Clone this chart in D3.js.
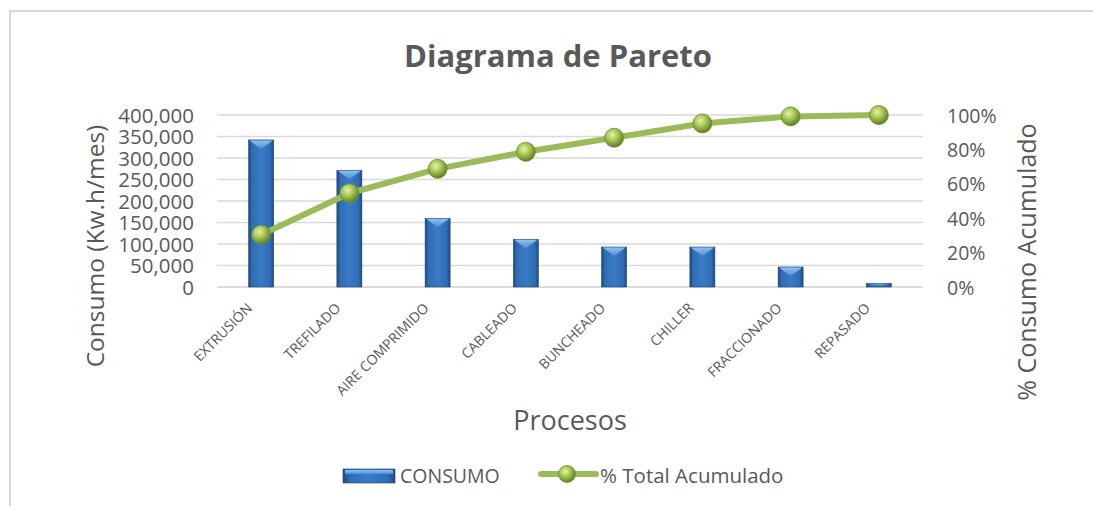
<!DOCTYPE html>
<html>
<head>
<meta charset="utf-8">
<script src="https://cdn.jsdelivr.net/npm/d3@7"></script>
<style>
  body { margin: 0; background: #fff; overflow: hidden; }
  svg { display: block; font-family: "Open Sans", sans-serif; }
</style>
</head>
<body>
<svg></svg>
<script>
(function (d3) {
  'use strict';

  // data
  var procesos = ["EXTRUSIÓN", "TREFILADO", "AIRE COMPRIMIDO", "CABLEADO",
                  "BUNCHEADO", "CHILLER", "FRACCIONADO", "REPASADO"];
  var consumo = [342000, 271400, 159700, 110900, 93000, 93000, 46500, 8600];
  var acumulado = [30.4, 54.5, 68.7, 78.6, 86.8, 95.1, 99.2, 100];
  var yTicks = [0, 50000, 100000, 150000, 200000, 250000, 300000, 350000, 400000];
  var pTicks = [0, 20, 40, 60, 80, 100];

  var width = 1093, height = 506,
      left = 217, right = 923, top = 115, bottom = 287,
      txt = "#595959";

  var svg = d3.select("svg").attr("width", width).attr("height", height);
  var defs = svg.append("defs");

  // bar bevel gradient
  var bg = defs.append("linearGradient").attr("id", "barGrad")
    .attr("x1", 0).attr("x2", 1).attr("y1", 0).attr("y2", 0);
  bg.append("stop").attr("offset", "0%").attr("stop-color", "#1d4a80");
  bg.append("stop").attr("offset", "14%").attr("stop-color", "#2f6db5");
  bg.append("stop").attr("offset", "50%").attr("stop-color", "#3a7bc6");
  bg.append("stop").attr("offset", "86%").attr("stop-color", "#2f6db5");
  bg.append("stop").attr("offset", "100%").attr("stop-color", "#1d4a80");

  var tg = defs.append("linearGradient").attr("id", "topGrad")
    .attr("x1", 0).attr("x2", 0).attr("y1", 0).attr("y2", 1);
  tg.append("stop").attr("offset", "0%").attr("stop-color", "#8fc0ee");
  tg.append("stop").attr("offset", "100%").attr("stop-color", "#4d8fd6");

  var mg = defs.append("radialGradient").attr("id", "dotGrad")
    .attr("cx", "40%").attr("cy", "35%").attr("r", "65%");
  mg.append("stop").attr("offset", "0%").attr("stop-color", "#e4f3a8");
  mg.append("stop").attr("offset", "45%").attr("stop-color", "#a9c957");
  mg.append("stop").attr("offset", "100%").attr("stop-color", "#5f7d22");

  // outer chart border (only top and left are in view)
  svg.append("path")
    .attr("d", "M10,506 L10,11 L1093,11")
    .attr("fill", "none").attr("stroke", "#d9d9d9").attr("stroke-width", 2);

  var x = d3.scaleBand().domain(procesos).range([left, right]);
  var y = d3.scaleLinear().domain([0, 400000]).range([bottom, top]);
  var yp = d3.scaleLinear().domain([0, 100]).range([bottom, top]);
  var barW = 25;

  // gridlines
  svg.append("g").selectAll("line").data(yTicks).enter().append("line")
    .attr("x1", left).attr("x2", right)
    .attr("y1", function (d) { return y(d); }).attr("y2", function (d) { return y(d); })
    .attr("stroke", function (d) { return d === 0 ? "#d0d0d0" : "#d9d9d9"; })
    .attr("stroke-width", 1.5);

  // left axis
  var yAxis = svg.append("g").attr("transform", "translate(" + (left - 23) + ",0)")
    .call(d3.axisLeft(y).tickValues(yTicks).tickSize(0).tickPadding(0)
      .tickFormat(d3.format(",")));
  yAxis.select(".domain").remove();
  yAxis.selectAll("text").attr("fill", txt).attr("font-size", 20.5)
    .attr("font-family", "'Open Sans', sans-serif").attr("dy", "0.36em");

  // right axis
  var pAxis = svg.append("g").attr("transform", "translate(" + (right + 24) + ",0)")
    .call(d3.axisRight(yp).tickValues(pTicks).tickSize(0).tickPadding(0)
      .tickFormat(function (d) { return d + "%"; }));
  pAxis.select(".domain").remove();
  pAxis.selectAll("text").attr("fill", txt).attr("font-size", 19.5)
    .attr("font-family", "'Open Sans', sans-serif").attr("dy", "0.36em");

  // x labels, rotated
  var xAxis = svg.append("g").attr("transform", "translate(0," + bottom + ")")
    .call(d3.axisBottom(x).tickSize(0).tickPadding(0));
  xAxis.select(".domain").remove();
  xAxis.selectAll("text")
    .attr("fill", txt).attr("font-size", 14)
    .attr("font-family", "'Open Sans', sans-serif")
    .attr("text-anchor", "end")
    .attr("dy", 0).attr("y", 0)
    .attr("transform", "translate(-8,22) rotate(-45)");

  // bars
  var bars = svg.append("g").selectAll("g").data(procesos).enter().append("g")
    .attr("transform", function (d) { return "translate(" + (x(d) + x.bandwidth() / 2 - barW / 2) + ",0)"; });
  bars.append("rect")
    .attr("y", function (d, i) { return y(consumo[i]); })
    .attr("width", barW)
    .attr("height", function (d, i) { return bottom - y(consumo[i]); })
    .attr("fill", "url(#barGrad)")
    .attr("stroke", "#1c4474").attr("stroke-width", 0.6);
  bars.append("path")
    .attr("d", function (d, i) {
      var t = y(consumo[i]), h = Math.min(9, (bottom - t) / 2);
      return "M1," + (t + 0.5) + " L" + (barW - 1) + "," + (t + 0.5) +
        " L" + (barW / 2) + "," + (t + h) + " Z";
    })
    .attr("fill", "url(#topGrad)");

  // cumulative line
  var line = d3.line()
    .x(function (d, i) { return x(procesos[i]) + x.bandwidth() / 2; })
    .y(function (d) { return yp(d); });
  svg.append("path").datum(acumulado)
    .attr("d", line).attr("fill", "none")
    .attr("stroke", "#9bbb59").attr("stroke-width", 6)
    .attr("stroke-linejoin", "round");
  svg.append("g").selectAll("circle").data(acumulado).enter().append("circle")
    .attr("cx", function (d, i) { return x(procesos[i]) + x.bandwidth() / 2; })
    .attr("cy", function (d) { return yp(d); })
    .attr("r", 9.5)
    .attr("fill", "url(#dotGrad)")
    .attr("stroke", "#6f8f2e").attr("stroke-width", 0.8);

  // titles
  svg.append("text").attr("x", 558).attr("y", 67).attr("text-anchor", "middle")
    .attr("font-size", 31).attr("font-weight", "bold").attr("fill", txt)
    .text("Diagrama de Pareto");
  svg.append("text").attr("transform", "translate(104,246) rotate(-90)")
    .attr("text-anchor", "middle").attr("font-size", 24.5).attr("fill", txt)
    .text("Consumo (Kw.h/mes)");
  svg.append("text").attr("transform", "translate(1036,262) rotate(-90)")
    .attr("text-anchor", "middle").attr("font-size", 25).attr("fill", txt)
    .text("% Consumo Acumulado");
  svg.append("text").attr("x", 570).attr("y", 430).attr("text-anchor", "middle")
    .attr("font-size", 27).attr("fill", txt)
    .text("Procesos");

  // legend
  var lg = svg.append("g");
  lg.append("rect").attr("x", 343).attr("y", 469).attr("width", 52).attr("height", 14)
    .attr("fill", "url(#barGrad)").attr("stroke", "#1c4474").attr("stroke-width", 0.6);
  lg.append("rect").attr("x", 345).attr("y", 470).attr("width", 48).attr("height", 4)
    .attr("fill", "url(#topGrad)");
  lg.append("text").attr("x", 400).attr("y", 483).attr("font-size", 19.5).attr("fill", txt)
    .text("CONSUMO");
  lg.append("line").attr("x1", 541).attr("x2", 596).attr("y1", 474).attr("y2", 474)
    .attr("stroke", "#9bbb59").attr("stroke-width", 6).attr("stroke-linecap", "round");
  lg.append("circle").attr("cx", 567).attr("cy", 474).attr("r", 8.5)
    .attr("fill", "url(#dotGrad)").attr("stroke", "#6f8f2e").attr("stroke-width", 0.8);
  lg.append("text").attr("x", 600).attr("y", 483).attr("font-size", 20.5).attr("fill", txt)
    .text("% Total Acumulado");
}(d3));
</script>
</body>
</html>
